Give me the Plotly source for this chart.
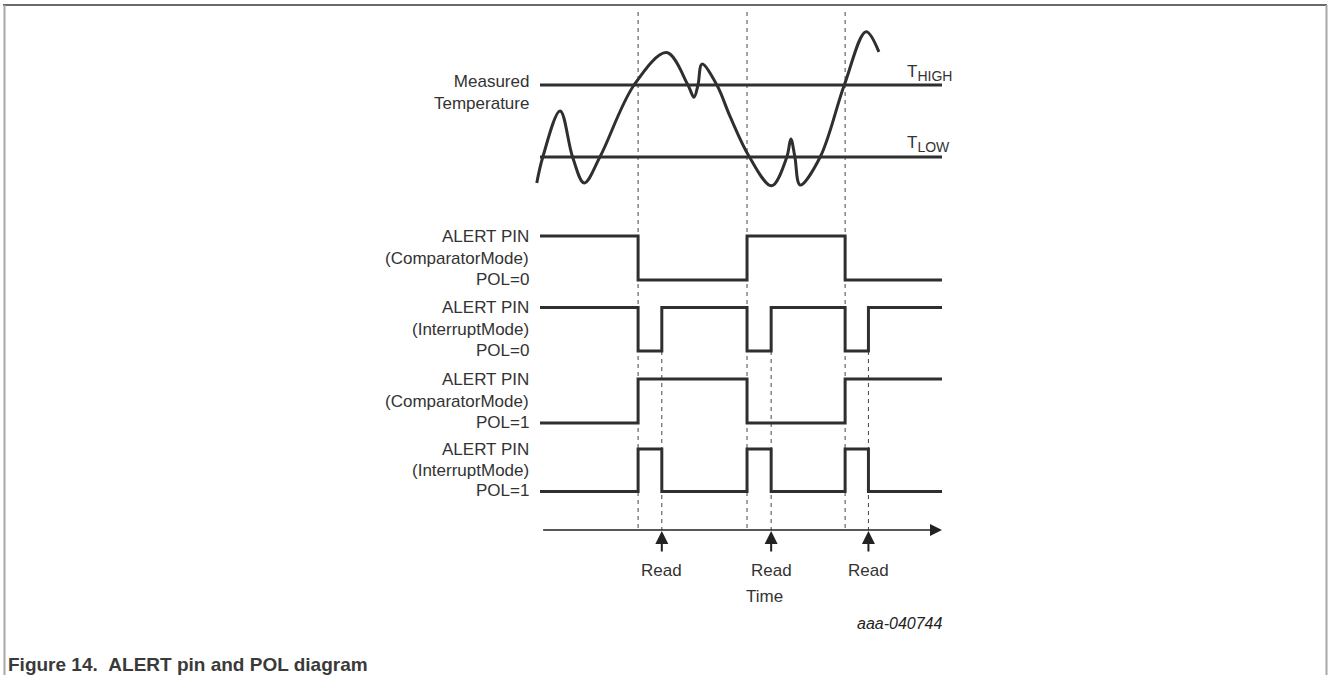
import plotly.graph_objects as go

W, H = 1328, 675

# ---------------- data ----------------
# measured temperature curve (time units 0..100 span the diagram, temperature in arbitrary degrees)
curve_t = [-0.8, 0.7, 5.0, 8.1, 11.0, 14.9, 23.4, 31.5, 36.8, 38.3, 39.3, 40.3, 44.0,
           47.3, 52.1, 57.6, 61.4, 62.4, 63.4, 64.7, 69.7, 75.7, 81.1, 84.3]
curve_temp = [16.4, 20.0, 26.4, 20.0, 16.4, 20.0, 30.0, 34.5, 30.0, 28.3, 30.0, 32.9, 30.0,
              25.6, 20.0, 16.0, 20.0, 22.5, 20.0, 16.1, 20.0, 30.0, 37.4, 34.6]
t_high = 30.0
t_low = 20.0
time_start = 0.0
time_end = 100.0
event_times = [24.4, 51.5, 75.9]     # threshold events
read_times = [30.3, 57.5, 81.7]      # register reads
row_labels = [
    ["ALERT PIN", "(ComparatorMode)", "POL=0"],
    ["ALERT PIN", "(InterruptMode)", "POL=0"],
    ["ALERT PIN", "(ComparatorMode)", "POL=1"],
    ["ALERT PIN", "(InterruptMode)", "POL=1"],
]
row_modes = ["comparator", "interrupt", "comparator", "interrupt"]
row_pol = [0, 0, 1, 1]
read_label = "Read"
axis_label = "Time"
doc_id = "aaa-040744"
caption = "Figure 14.\u00a0\u00a0ALERT pin and POL diagram"

# ---------------- layout geometry (pixels) ----------------
X0_PX, X1_PX = 540.0, 942.0
PX_PER_T = (X1_PX - X0_PX) / (time_end - time_start)
Y_HIGH_PX, Y_LOW_PX = 85.0, 157.0
PX_PER_DEG = (Y_LOW_PX - Y_HIGH_PX) / (t_high - t_low)
ROW_PX = [(236.0, 280.0), (307.5, 351.0), (379.0, 423.0), (449.0, 491.5)]
AXIS_PX = 530.0
INK = "#2f2f2f"
TXT = "#333333"
FONT = "Liberation Sans, Arial, sans-serif"


def px_x(px):
    return px / W


def px_y(py):
    return 1 - py / H


x_range = [time_start - X0_PX / PX_PER_T, time_start + (W - X0_PX) / PX_PER_T]
temp_top = t_high + Y_HIGH_PX / PX_PER_DEG
temp_range = [temp_top - H / PX_PER_DEG, temp_top]


def row_range(hi, lo):
    amp = lo - hi
    top = 1 + hi / amp
    return [top - H / amp, top]


def waveform(mode, pol):
    xs, ys = [time_start], []
    active = 0 if pol == 0 else 1
    idle = 1 - active
    if mode == "comparator":
        level = idle
        ys.append(level)
        for e in event_times:
            level = 1 - level
            xs.append(e)
            ys.append(level)
    else:
        ys.append(idle)
        for e, r in zip(event_times, read_times):
            xs.append(e)
            ys.append(active)
            xs.append(r)
            ys.append(idle)
    xs.append(time_end)
    ys.append(ys[-1])
    return xs, ys


fig = go.Figure()

# thresholds
for lvl in (t_high, t_low):
    fig.add_trace(go.Scatter(x=[time_start, time_end], y=[lvl, lvl], mode="lines",
                             line=dict(color=INK, width=3), yaxis="y", hoverinfo="skip"))
# temperature curve
fig.add_trace(go.Scatter(x=curve_t, y=curve_temp, mode="lines",
                         line=dict(color=INK, width=3, shape="spline", smoothing=1.0),
                         yaxis="y", hoverinfo="skip"))

# digital rows
for i, (mode, pol) in enumerate(zip(row_modes, row_pol)):
    xs, ys = waveform(mode, pol)
    fig.add_trace(go.Scatter(x=xs, y=ys, mode="lines",
                             line=dict(color=INK, width=3, shape="hv"),
                             yaxis="y%d" % (i + 2), hoverinfo="skip"))

shapes = []
# frame
shapes.append(dict(type="line", xref="paper", yref="paper", x0=px_x(3), x1=px_x(1327),
                   y0=px_y(5), y1=px_y(5), line=dict(color="#6a6a6a", width=2)))
shapes.append(dict(type="line", xref="paper", yref="paper", x0=px_x(4.5), x1=px_x(4.5),
                   y0=px_y(5), y1=px_y(676), line=dict(color="#a8a8a8", width=2)))
shapes.append(dict(type="line", xref="paper", yref="paper", x0=px_x(1326.5), x1=px_x(1326.5),
                   y0=px_y(5), y1=px_y(676), line=dict(color="#a8a8a8", width=2)))
# dashed event / read markers
for e in event_times:
    shapes.append(dict(type="line", xref="x", yref="paper", x0=e, x1=e,
                       y0=px_y(12), y1=px_y(AXIS_PX),
                       line=dict(color="#444444", width=1, dash="4px,4px"), layer="below"))
for r in read_times:
    shapes.append(dict(type="line", xref="x", yref="paper", x0=r, x1=r,
                       y0=px_y(ROW_PX[1][1]), y1=px_y(AXIS_PX),
                       line=dict(color="#444444", width=1, dash="4px,4px"), layer="below"))

ann = []
lab_font = dict(family=FONT, size=17, color=TXT)
# measured temperature label
ann.append(dict(xref="paper", yref="paper", x=px_x(531), y=px_y(92), xanchor="right",
                yanchor="middle", align="right", text="Measured<br>Temperature",
                showarrow=False, font=lab_font))
ann.append(dict(xref="paper", yref="paper", x=px_x(905), y=px_y(73), xanchor="left",
                yanchor="middle",
                text="T<sub><span style='font-size:14px'>HIGH</span></sub>",
                showarrow=False, font=lab_font))
ann.append(dict(xref="paper", yref="paper", x=px_x(905), y=px_y(144), xanchor="left",
                yanchor="middle",
                text="T<sub><span style='font-size:14px'>LOW</span></sub>",
                showarrow=False, font=lab_font))
# row labels
for (hi, lo), lines in zip(ROW_PX, row_labels):
    ys = [hi, (hi + lo) / 2, lo - 1]
    for yy, tx in zip(ys, lines):
        ann.append(dict(xref="paper", yref="paper", x=px_x(531), y=px_y(yy), xanchor="right",
                        yanchor="middle", text=tx, showarrow=False, font=lab_font))
# time axis arrow
ann.append(dict(xref="x", yref="paper", x=time_end, y=px_y(AXIS_PX), axref="x", ayref="pixel",
                ax=time_start + 0.4, ay=0, showarrow=True, arrowhead=2, arrowsize=1.6,
                arrowwidth=1.5, arrowcolor="#222222", text=""))
# read arrows and labels
for r in read_times:
    ann.append(dict(xref="x", yref="paper", x=r, y=px_y(AXIS_PX + 1), ax=0, ay=22,
                    showarrow=True, arrowhead=2, arrowsize=1.3, arrowwidth=2,
                    arrowcolor="#222222", text=""))
    ann.append(dict(xref="x", yref="paper", x=r, y=px_y(570), xanchor="center",
                    yanchor="middle", text=read_label, showarrow=False, font=lab_font))
ann.append(dict(xref="paper", yref="paper", x=px_x(765), y=px_y(596), xanchor="center",
                yanchor="middle", text=axis_label, showarrow=False, font=lab_font))
ann.append(dict(xref="paper", yref="paper", x=px_x(945), y=px_y(623), xanchor="right",
                yanchor="middle", text="<i>%s</i>" % doc_id, showarrow=False,
                font=dict(family=FONT, size=16, color="#222222")))
ann.append(dict(xref="paper", yref="paper", x=px_x(6), y=px_y(664), xanchor="left",
                yanchor="middle", text="<b>%s</b>" % caption, showarrow=False,
                font=dict(family=FONT, size=19, color="#3a3a3a")))

layout_axes = dict(
    xaxis=dict(range=x_range, domain=[0, 1], visible=False, fixedrange=True),
    yaxis=dict(range=temp_range, domain=[0, 1], visible=False, fixedrange=True),
)
for i, (hi, lo) in enumerate(ROW_PX):
    layout_axes["yaxis%d" % (i + 2)] = dict(range=row_range(hi, lo), overlaying="y",
                                           visible=False, fixedrange=True)

fig.update_layout(width=W, height=H, margin=dict(l=0, r=0, t=0, b=0),
                  paper_bgcolor="white", plot_bgcolor="white", showlegend=False,
                  shapes=shapes, annotations=ann, **layout_axes)

fig.write_html("out.html", config={"displayModeBar": False},
               post_script="document.body.style.margin='0';"
                           "document.body.style.overflow='hidden';")
